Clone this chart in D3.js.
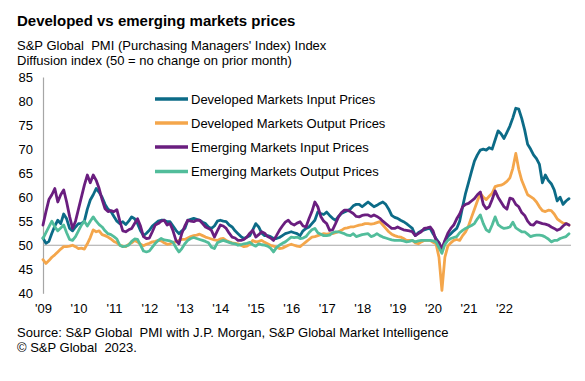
<!DOCTYPE html>
<html><head><meta charset="utf-8">
<script src="https://cdn.jsdelivr.net/npm/d3@7"></script>
<style>
body{margin:0;background:#fff}
svg{display:block}
text{font-family:"Liberation Sans",Arial,Helvetica,sans-serif;fill:#000}
</style>
</head><body>
<svg id="chart" width="585" height="381"></svg>
<script>
// ---- data (monthly, Jan 2009 onwards) ----
const seriesNames = ["Developed Markets Input Prices","Developed Markets Output Prices","Emerging Markets Input Prices","Emerging Markets Output Prices"];
const seriesColors = ["#0c6b87","#f4a64b","#6a1e7f","#52bd9b"];
const startYear = 2009;

const dmInput = [
51.5,50.4,50.8,52.5,54,55.2,54.5,56.5,55.5,53.5,53,53.8,
54.5,54.5,55,57.5,59.4,60.5,61.8,61,60,58.5,57.5,57,
56,55,54.5,54.9,54.3,55,55.9,55.5,54.5,53,52,52.5,
53.1,54,54.5,55,55.2,55.2,54.9,54.9,54,53.1,52.4,53,
53.5,55.2,55.4,55.6,55.4,55.2,54.8,54.5,53.8,53.5,54,55,
55.2,55,54.9,54.2,53.8,53,52.4,51.8,51.4,51.7,52,53.2,
54.5,53.8,52.5,52,52,51.8,51.4,51.4,51.6,52,52.4,52.6,
52.8,52.6,52.4,52,53,53.5,53.8,54.5,55.2,56.9,56.6,56.4,
56.9,56.2,55.6,55.2,56,56.6,56.9,57.2,57.5,58.2,58.5,58.5,
58,58.5,59,58.5,58,58.3,58.7,59,58.5,57.5,56.2,55.8,
55.6,55.2,54.9,54.5,54,53.5,52,52.6,53,53.2,53.4,53.5,
52.4,51.4,50.5,48.8,50.8,51.8,52.4,53,53.5,55,58,60.8,
63,65.3,67.5,68.8,69.8,70,69.8,70.3,70,71.9,73.8,73.2,
72.2,73.5,74.8,76.5,78.5,78.3,76.4,74,71,70,68.8,68,
66.8,63,64.6,63.5,62.8,61.5,59.2,60,58.5,59.2,59.7];

const dmOutput = [
47,46.2,46.8,47.5,48,48.6,49.2,49.7,49.7,49.8,50,49.7,
49.3,49.4,49.2,50.3,51.6,53.2,52.8,53,52.2,52,51.7,51.3,
50.8,50.5,50,49.8,49.7,50.2,50.5,51,50.7,50.2,49.9,50.2,
50.4,50.7,50.8,51,50.9,50.5,50.2,50.3,50.6,50.7,51,51.2,
51.2,51.5,51.8,52,52.1,52.3,52,51.7,51.5,51.3,51.1,51,
51.3,51.4,51,50.7,50.5,50.4,50.3,50,49.7,49.8,50.2,51,
50.7,50.8,51,50.6,50.3,50,49.8,49.6,49.3,49.4,49.7,50,
50.2,50,49.8,49.7,50.2,50.7,51.2,51.7,51.8,52,52.2,52.4,
52.3,52.4,52.4,52.6,52.8,53.1,53.5,53.6,53.8,53.8,54,54.2,
54.3,54.5,54.5,54.4,54.5,54.7,54.9,54.2,53.5,52.8,52.3,52,
51.8,51.7,51.4,51,51,51,50.5,50.3,50.7,51,51,51,
50.6,50.3,47.5,40.6,47.5,49.8,50.5,51,51.2,51,52,52.8,
54,55.8,57.5,59.2,60.8,60,59.5,60.2,60.8,62.2,62.4,62.5,
62.8,63.3,64,66,69.1,65.8,63.5,62,60.5,60.1,59.7,59,
58,57.2,57,57.3,57.2,56.5,55.5,55,54.6,54.5,54.2];

const emInput = [
54.2,57,59.5,60.5,61.8,59,60.5,61.5,59,56,53.5,55,
57.5,60,62.5,64.6,63,64.6,63.5,61.8,59.5,57.6,57,57.2,
57,57.4,55,53,52.8,53.2,53.5,54.5,55.5,54,51.8,51.4,
51.5,52.8,54.2,54.5,55,55.2,54.2,54.5,53,51,50.3,52.5,
54,55.2,55,54.9,55.2,55.2,54.5,53.8,53.5,53.1,51.7,53,
54.2,54,53.5,52.5,51.7,51.5,51,51,51.2,51.7,52.5,53.1,
51.7,52.2,52.8,52.5,51.8,51.5,51,52,53.1,54,54.8,55.2,
54.5,54.2,54.6,54.9,54,53.8,55.5,57,59,58,56,55,
54.5,53.1,53.2,54.5,55.9,56.8,57.3,57.3,57,56.6,56,55.9,
56.2,56.3,56.3,56,56.3,56,55.6,55,54.5,54,53.5,53.5,
53.8,53.5,53.2,53.1,53,52.8,52,52.4,52.8,53.5,53.6,53.8,
53,51,50.5,49.3,51,52.5,53.5,54.2,55.5,56.5,58,58.5,
58.7,59.2,59.7,60.5,61.1,58.5,57.6,58,59.5,61.3,60,59,
58,57.5,59.8,59.6,58.5,58,56.8,56.2,55,54.3,54.2,54.9,
54.7,54.5,54.4,54.2,53.8,53.5,53.1,53.4,54,54.5,54.2];

const emOutput = [
51.4,52.6,53.8,55,53.8,53,53.6,54.2,52.6,51.2,51,51.8,
53,54.2,55,54,55,55.9,55,54.3,53.8,53,52.4,52.2,
51.8,51.3,50,49.7,49.8,50,50.8,51.3,51.2,50,48.8,48.6,
48.8,49.6,50.4,51,51.4,51.1,51,50.9,50.6,49.5,48.6,49.3,
50.3,51,51.4,51.6,51.4,51.2,51,50.8,50.5,49.6,49.3,50.5,
50.8,51,50.8,50.6,50.4,50.3,50,50.1,50.3,50.4,50.6,50.1,
49.8,50.3,50.1,50,49.8,49.4,48.6,49.5,50,50.4,50.7,51.2,
51.7,51.6,51.7,51.4,51.5,51.8,52.6,53.2,53.5,52.6,52.3,52,
52,52.1,52.6,52.8,52.8,52.6,52.4,52.1,52,52.4,51.8,52,
52.2,52.3,52.4,51.8,52,52.4,52,51.7,51.5,51.3,51.1,51,
51,51,50.9,50.7,50.8,51,50.7,50.9,51,51,51,51,
50.9,50.7,49.5,48.3,50.2,51,51.4,51.6,51.8,52.6,53.1,53.5,
53.8,54.1,54.5,55.5,56.3,54.5,53.2,52.8,54.2,55.9,54.3,53.8,
53.5,53.6,53.8,54.8,53.6,53.2,52.8,52.8,52.3,51.8,52,52.1,
52.1,52,51.7,51.3,50.7,51,51,51.4,51.6,51.8,52.4];

const yTickValues = [40,45,50,55,60,65,70,75,80,85];
const xTickLabels = ["'09","'10","'11","'12","'13","'14","'15","'16","'17","'18","'19","'20","'21","'22"];

const titleText = "Developed vs emerging markets prices";
const subtitleLines = ["S&P Global  PMI (Purchasing Managers' Index) Index","Diffusion index (50 = no change on prior month)"];
const sourceLines = ["Source: S&P Global  PMI with J.P. Morgan, S&P Global Market Intelligence","\u00A9 S&P Global  2023."];

// ---- drawing ----
const svg = d3.select("#chart");
const allSeries = [dmInput, dmOutput, emInput, emOutput];
const n = dmInput.length;

const x = d3.scaleLinear().domain([0, n - 1]).range([43, 43 + 2.955 * (n - 1)]);
const y = d3.scaleLinear().domain([40, 85]).range([293.3, 77]);

svg.append("text").attr("x", 17).attr("y", 26).style("font-size", "15px").style("font-weight", "bold").text(titleText);
svg.selectAll("text.sub").data(subtitleLines).join("text").attr("class", "sub")
  .attr("x", 17).attr("y", (d, i) => 50 + i * 15).style("font-size", "13px").style("white-space", "pre").attr("xml:space", "preserve").text(d => d);
svg.selectAll("text.src").data(sourceLines).join("text").attr("class", "src")
  .attr("x", 17).attr("y", (d, i) => 337 + i * 15).style("font-size", "13px").style("white-space", "pre").attr("xml:space", "preserve").text(d => d);

// y axis
const yAxis = svg.append("g").attr("transform", "translate(43,0)")
  .call(d3.axisLeft(y).tickValues(yTickValues).tickSize(0).tickPadding(10));
yAxis.select(".domain").attr("stroke", "#a6a6a6").attr("stroke-width", 1.2);
yAxis.selectAll("text").style("font-size", "13px").style("font-family", "'Liberation Sans',Arial,sans-serif").attr("fill", "#000");

// x axis (labels only)
const xAxis = svg.append("g").attr("transform", "translate(0,300)")
  .call(d3.axisBottom(x).tickValues(d3.range(0, xTickLabels.length * 12, 12)).tickFormat((d, i) => xTickLabels[i]).tickSize(0).tickPadding(4));
xAxis.select(".domain").remove();
xAxis.selectAll("text").style("font-size", "13px").style("font-family", "'Liberation Sans',Arial,sans-serif").attr("fill", "#000");

// 50 line
svg.append("line").attr("x1", x(0)).attr("x2", x(n - 1) + 2).attr("y1", y(50)).attr("y2", y(50))
  .attr("stroke", "#a6a6a6").attr("stroke-width", 1.2);

// series
const line = d3.line().x((d, i) => x(i)).y(d => y(d)).curve(d3.curveLinear);
svg.selectAll("path.series").data(allSeries).join("path").attr("class", "series")
  .attr("d", line).attr("fill", "none")
  .attr("stroke", (d, i) => seriesColors[i]).attr("stroke-width", 2.8)
  .attr("stroke-linejoin", "round").attr("stroke-linecap", "round");

// legend
const legend = svg.append("g");
const legendY = [99, 123, 147, 171.5];
seriesNames.forEach((name, i) => {
  legend.append("line").attr("x1", 155).attr("x2", 188).attr("y1", legendY[i]).attr("y2", legendY[i])
    .attr("stroke", seriesColors[i]).attr("stroke-width", 3.5);
  legend.append("text").attr("x", 191).attr("y", legendY[i] + 4.6).style("font-size", "13px").text(name);
});
</script>
</body></html>
